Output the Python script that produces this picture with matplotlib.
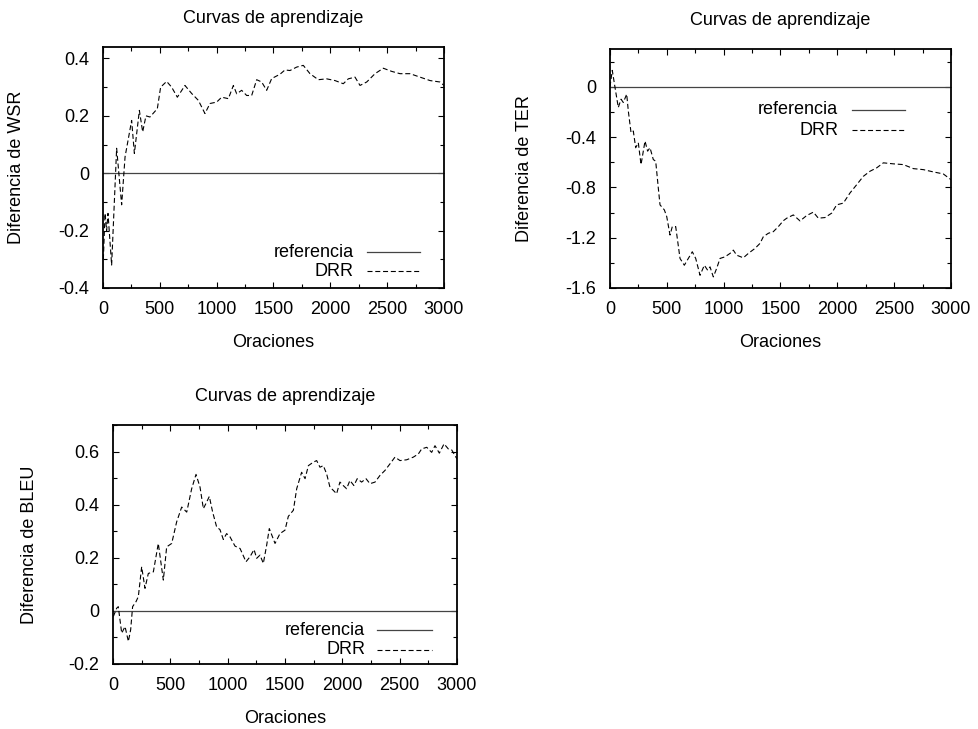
import matplotlib
matplotlib.use('Agg')
import matplotlib.pyplot as plt
from matplotlib.ticker import MultipleLocator

plt.rcParams['font.family'] = ['Liberation Sans', 'DejaVu Sans']
plt.rcParams['font.size'] = 13

# --- datos ---
wsr_x = [3, 18, 32, 44, 76, 120, 164, 194, 252, 276, 320, 349, 378, 413, 478, 507,
         560, 604, 654, 721, 780, 839, 897, 941, 1000, 1044, 1103, 1147, 1176, 1220,
         1264, 1308, 1352, 1396, 1440, 1484, 1557, 1601, 1645, 1704, 1762, 1821, 1894,
         1968, 2041, 2114, 2158, 2217, 2261, 2320, 2393, 2466, 2540, 2613, 2701, 2789,
         2877, 2965, 3000]
wsr_y = [-0.30, -0.14, -0.20, -0.14, -0.32, 0.087, -0.11, 0.057, 0.184, 0.069, 0.219,
         0.144, 0.20, 0.196, 0.225, 0.30, 0.32, 0.30, 0.265, 0.306, 0.278, 0.254, 0.208,
         0.243, 0.248, 0.265, 0.26, 0.306, 0.277, 0.289, 0.271, 0.271, 0.326, 0.318,
         0.289, 0.33, 0.345, 0.36, 0.358, 0.37, 0.376, 0.347, 0.326, 0.329, 0.323, 0.312,
         0.329, 0.335, 0.306, 0.318, 0.347, 0.366, 0.355, 0.347, 0.347, 0.335, 0.323,
         0.318, 0.306]

ter_x = [0, 20, 44, 73, 97, 117, 147, 161, 185, 205, 226, 249, 273, 308, 331, 352, 381,
         402, 425, 440, 478, 499, 528, 548, 578, 616, 654, 689, 724, 754, 792, 830, 859,
         880, 909, 938, 968, 1012, 1056, 1085, 1114, 1173, 1217, 1276, 1320, 1349, 1393,
         1437, 1481, 1525, 1555, 1613, 1672, 1730, 1789, 1833, 1891, 1950, 1994, 2053,
         2111, 2170, 2229, 2287, 2346, 2405, 2493, 2581, 2669, 2757, 2844, 2932, 3000]
ter_y = [0.0, 0.13, -0.005, -0.165, -0.099, -0.125, -0.059, -0.192, -0.365, -0.352,
         -0.485, -0.445, -0.619, -0.432, -0.512, -0.485, -0.579, -0.592, -0.805, -0.939,
         -0.979, -1.032, -1.179, -1.112, -1.112, -1.365, -1.419, -1.365, -1.312, -1.365,
         -1.499, -1.419, -1.459, -1.432, -1.512, -1.445, -1.365, -1.352, -1.325, -1.299,
         -1.339, -1.36, -1.325, -1.285, -1.245, -1.192, -1.165, -1.152, -1.112, -1.065,
         -1.045, -1.019, -1.067, -1.024, -0.997, -1.045, -1.04, -1.005, -0.939, -0.925,
         -0.845, -0.779, -0.712, -0.672, -0.645, -0.605, -0.613, -0.619, -0.651, -0.659,
         -0.677, -0.693, -0.739]

bleu_x = [3, 32, 46, 76, 105, 134, 154, 171, 201, 221, 250, 279, 308, 352, 395, 439,
          468, 512, 555, 599, 643, 686, 724, 759, 788, 817, 840, 869, 904, 933, 962, 991,
          1020, 1064, 1108, 1160, 1195, 1230, 1253, 1282, 1311, 1340, 1363, 1413, 1456,
          1500, 1529, 1573, 1602, 1645, 1675, 1704, 1747, 1776, 1805, 1834, 1863, 1892,
          1921, 1950, 1979, 2008, 2037, 2066, 2101, 2130, 2168, 2206, 2241, 2285, 2328,
          2372, 2416, 2459, 2503, 2561, 2619, 2663, 2692, 2736, 2779, 2808, 2846, 2887,
          2924, 2954, 3000]
bleu_y = [-0.021, 0.01, 0.016, -0.084, -0.059, -0.115, -0.071, 0.016, 0.035, 0.054,
          0.166, 0.085, 0.141, 0.147, 0.254, 0.116, 0.241, 0.254, 0.335, 0.391, 0.372,
          0.46, 0.514, 0.466, 0.385, 0.41, 0.431, 0.372, 0.316, 0.306, 0.269, 0.291, 0.279,
          0.244, 0.235, 0.185, 0.204, 0.231, 0.198, 0.21, 0.179, 0.247, 0.31, 0.254, 0.291,
          0.304, 0.356, 0.379, 0.46, 0.522, 0.498, 0.547, 0.56, 0.566, 0.541, 0.547, 0.516,
          0.466, 0.454, 0.441, 0.485, 0.472, 0.46, 0.491, 0.472, 0.498, 0.485, 0.498, 0.479,
          0.485, 0.51, 0.529, 0.554, 0.579, 0.566, 0.569, 0.579, 0.591, 0.61, 0.616, 0.597,
          0.622, 0.594, 0.629, 0.61, 0.606, 0.572]

W, H = 979.0, 729.0


def box(l, t, r, b):
    return [l / W, 1 - b / H, (r - l) / W, (b - t) / H]


def panel(rect, xs, ys, ylabel, ylim, ystep, leg, ylx):
    ax = fig.add_axes(rect)
    ax.axhline(0, color='#444444', lw=0.9)
    ax.plot(xs, ys, color='black', lw=0.8, dashes=(4.5, 2.5))
    ax.set_xlim(0, 3000)
    ax.set_ylim(*ylim)
    ax.xaxis.set_major_locator(MultipleLocator(500))
    ax.xaxis.set_minor_locator(MultipleLocator(250))
    ax.yaxis.set_major_locator(MultipleLocator(ystep))
    ax.yaxis.set_minor_locator(MultipleLocator(ystep / 2))
    ax.yaxis.set_major_formatter(plt.FuncFormatter(lambda v, p: '%g' % round(v, 2)))
    ax.tick_params(which='both', direction='in', top=True, right=True, width=0.8,
                   labelsize=13)
    ax.tick_params(axis='y', pad=10)
    ax.tick_params(axis='x', pad=9)
    ax.tick_params(which='major', length=4)
    ax.tick_params(which='minor', length=3)
    for s in ax.spines.values():
        s.set_linewidth(1.3)
    ax.set_title('Curvas de aprendizaje', fontsize=13, pad=17)
    ax.set_xlabel('Oraciones', fontsize=13, labelpad=12)
    ax.set_ylabel(ylabel, fontsize=13)
    ax.yaxis.set_label_coords(ylx, 0.5)
    # leyenda al estilo gnuplot: texto a la derecha, muestra despues
    tx, x0, x1, y0, y1 = leg
    ax.text(tx, y0, 'referencia', transform=ax.transAxes, ha='right', va='center', fontsize=13)
    ax.text(tx, y1, 'DRR', transform=ax.transAxes, ha='right', va='center', fontsize=13)
    ax.plot([x0, x1], [y0, y0], transform=ax.transAxes, color='#444444', lw=0.9)
    ax.plot([x0, x1], [y1, y1], transform=ax.transAxes, color='black', lw=0.8,
            dashes=(4.5, 2.5))
    return ax


fig = plt.figure(figsize=(9.79, 7.29), dpi=100)

panel(box(103, 47, 444, 288), wsr_x, wsr_y, 'Diferencia de WSR', (-0.4, 0.44), 0.2,
      (0.736, 0.774, 0.93, 0.149, 0.07), -0.229)
panel(box(610, 49, 951, 288), ter_x, ter_y, 'Diferencia de TER', (-1.6, 0.3), 0.4,
      (0.669, 0.71, 0.865, 0.745, 0.661), -0.226)
panel(box(113, 425, 457, 664), bleu_x, bleu_y, 'Diferencia de BLEU', (-0.2, 0.7), 0.2,
      (0.733, 0.767, 0.927, 0.142, 0.059), -0.218)

fig.savefig('out.png', dpi=100)
